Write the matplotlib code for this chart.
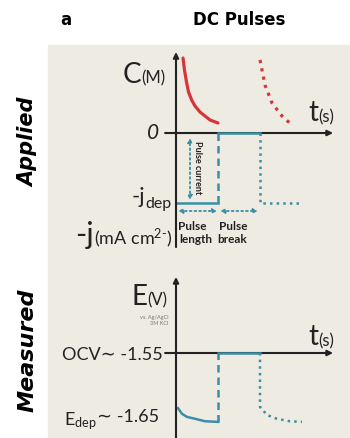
import matplotlib
matplotlib.use("Agg")
import matplotlib.pyplot as plt
from matplotlib.patches import Rectangle

# 数据（示意图，时间单位=1个脉冲长度）
# 施加的电流脉冲
t_on = [0, 1]
j_on = [-1, -1]
t_rise = [1, 1]
j_rise = [-1, 0]
t_off = [1, 2]
j_off = [0, 0]
t_next = [2, 2, 3]
j_next = [0, -1, -1]

# 浓度衰减曲线 C(M)
c_t = [0.167, 0.202, 0.254, 0.298, 0.373, 0.452, 0.571, 0.69, 0.81, 0.905, 1.0]
c_val = [1.071, 0.90, 0.714, 0.586, 0.471, 0.386, 0.30, 0.243, 0.186, 0.164, 0.143]
c_t2 = [2.0, 2.119, 2.286, 2.524, 2.786]
c_val2 = [1.043, 0.686, 0.429, 0.243, 0.10]

# 测得的电位 E(V)
ocv = -1.55
e_dep = -1.65
e_t = [0.048, 0.143, 0.262, 0.452, 0.69, 1.0]
e_val = [-1.639, -1.648, -1.653, -1.656, -1.660, -1.661]
e_rise_t = [1, 1]
e_rise = [-1.661, -1.55]
e_off_t = [1, 2]
e_off = [-1.55, -1.55]
e_next_t = [2, 2, 2.17, 2.40, 2.71, 3.0]
e_next = [-1.55, -1.637, -1.650, -1.656, -1.660, -1.661]

plt.rcParams['font.family'] = ['Lato', 'DejaVu Sans']
plt.rcParams['mathtext.fontset'] = 'custom'
plt.rcParams['mathtext.rm'] = 'Lato'
plt.rcParams['mathtext.it'] = 'Lato:italic'
plt.rcParams['mathtext.bf'] = 'Lato:bold'

beige = '#eeebe2'
red = '#d6363a'
blue = '#3b8ea5'
ink = '#222222'

fig = plt.figure(figsize=(3.5, 4.38), dpi=100, facecolor='white')
fig.add_artist(Rectangle((48 / 350, 0), 302 / 350, 393 / 438,
                         transform=fig.transFigure, color=beige, zorder=0))


def arrow(ax, x0, y0, x1, y1, style='-|>', ls='-', color=ink, lw=1.5, ms=8):
    ax.annotate('', xy=(x1, y1), xytext=(x0, y0),
                arrowprops=dict(arrowstyle=style, lw=lw, color=color, ls=ls,
                                shrinkA=0, shrinkB=0, mutation_scale=ms))


# ---------- 上半部分：施加 ----------
ax1 = fig.add_axes([48 / 350, 1 - 250 / 438, 302 / 350, 205 / 438])
ax1.set_xlim(-3.048, 4.143)
ax1.set_ylim(-1.671, 1.257)
ax1.axis('off')
ax1.patch.set_alpha(0)

arrow(ax1, 0, -1.629, 0, 1.157)
arrow(ax1, -0.26, 0, 3.74, 0)

ax1.plot(c_t, c_val, color=red, lw=2.3, solid_capstyle='round', solid_joinstyle='round')
ax1.plot(c_t2, c_val2, color=red, lw=2.3, ls=':')

ax1.plot(t_on, j_on, color=blue, lw=1.8)
ax1.plot(t_rise, j_rise, color=blue, lw=1.8, ls=(0, (3, 2)))
ax1.plot(t_off, j_off, color=blue, lw=1.8, zorder=5)
ax1.plot(t_next, j_next, color=blue, lw=1.8, ls=':')

arrow(ax1, 0.333, -0.957, 0.333, -0.07, style='<|-|>', ls=':', color=blue, lw=1.3, ms=6)
arrow(ax1, 0.05, -1.114, 0.98, -1.114, style='<|-|>', ls=':', color=blue, lw=1.3, ms=6)
arrow(ax1, 1.05, -1.114, 1.95, -1.114, style='<|-|>', ls=':', color=blue, lw=1.3, ms=6)

ax1.text(0.52, -0.49, 'Pulse current', rotation=270, ha='center', va='center',
         fontsize=6.5, fontweight='bold', color=ink)
ax1.text(0.38, -1.33, 'Pulse', ha='center', va='center', fontsize=8.5, fontweight='bold', color=ink)
ax1.text(1.36, -1.33, 'Pulse', ha='center', va='center', fontsize=8.5, fontweight='bold', color=ink)
ax1.text(0.48, -1.514, 'length', ha='center', va='center', fontsize=8.5, fontweight='bold', color=ink)
ax1.text(1.33, -1.514, 'break', ha='center', va='center', fontsize=8.5, fontweight='bold', color=ink)

ax1.text(-0.833, 0.829, 'C', ha='right', va='center', fontsize=20, color=ink)
ax1.text(-0.833, 0.786, '(M)', ha='left', va='center', fontsize=12, color=ink)
ax1.text(3.381, 0.286, 't', ha='right', va='center', fontsize=20, color=ink)
ax1.text(3.381, 0.229, '(s)', ha='left', va='center', fontsize=12, color=ink)
ax1.text(-0.40, 0, '0', ha='right', va='center', fontsize=15, style='italic', color=ink)
ax1.text(-0.73, -0.92, '-j', ha='right', va='center', fontsize=16, color=ink)
ax1.text(-0.73, -1.02, 'dep', ha='left', va='center', fontsize=11.5, color=ink)
ax1.text(-1.95, -1.457, '-j', ha='right', va='center', fontsize=22, color=ink)
ax1.text(-1.95, -1.50, '(mA cm$^{2\\text{-}}$)', ha='left', va='center', fontsize=13, color=ink)

# ---------- 下半部分：测量 ----------
ax2 = fig.add_axes([48 / 350, 0, 302 / 350, 188 / 438])
ax2.set_xlim(-3.048, 4.143)
ax2.set_ylim(-1.687, -1.384)
ax2.axis('off')
ax2.patch.set_alpha(0)

arrow(ax2, 0, -1.687, 0, -1.4274)
arrow(ax2, -0.26, ocv, 3.74, ocv)

ax2.plot(e_t, e_val, color=blue, lw=1.8)
ax2.plot(e_rise_t, e_rise, color=blue, lw=1.8, ls=(0, (3, 2)))
ax2.plot(e_off_t, e_off, color=blue, lw=1.8, zorder=5)
ax2.plot(e_next_t, e_next, color=blue, lw=1.8, ls=':')

ax2.text(-0.69, -1.4597, 'E', ha='right', va='center', fontsize=20, color=ink)
ax2.text(-0.69, -1.4645, '(V)', ha='left', va='center', fontsize=12, color=ink)
ax2.text(-0.19, -1.492, 'vs. Ag/AgCl', ha='right', va='center', fontsize=4, color='#777777')
ax2.text(-0.19, -1.503, '3M KCl', ha='right', va='center', fontsize=4, color='#777777')
ax2.text(3.381, -1.524, 't', ha='right', va='center', fontsize=20, color=ink)
ax2.text(3.381, -1.531, '(s)', ha='left', va='center', fontsize=12, color=ink)
ax2.text(-0.31, -1.5613, 'OCV\u223c -1.55', ha='right', va='baseline', fontsize=13, color=ink)
num = ax2.text(-0.40, -1.661, '\u223c -1.65', ha='right', va='baseline', fontsize=13, color=ink)
ax2.annotate('E$_{\\mathrm{dep}}$', xy=(0, 0), xycoords=num, ha='right', va='baseline',
             fontsize=13, color=ink)

# ---------- 标题与侧标签 ----------
fig.text(66 / 350, 1 - 20 / 438, 'a', ha='center', va='center', fontsize=12,
         fontweight='bold', family='DejaVu Sans')
fig.text(239 / 350, 1 - 20 / 438, 'DC Pulses', ha='center', va='center', fontsize=12,
         fontweight='bold', family='DejaVu Sans')
fig.text(28 / 350, 1 - 142 / 438, 'Applied', rotation=90, ha='center', va='center',
         fontsize=15, fontweight='bold', style='italic', family='DejaVu Sans')
fig.text(28 / 350, 1 - 350 / 438, 'Measured', rotation=90, ha='center', va='center',
         fontsize=16, fontweight='bold', style='italic', family='DejaVu Sans')

fig.savefig('out.png', dpi=100)
